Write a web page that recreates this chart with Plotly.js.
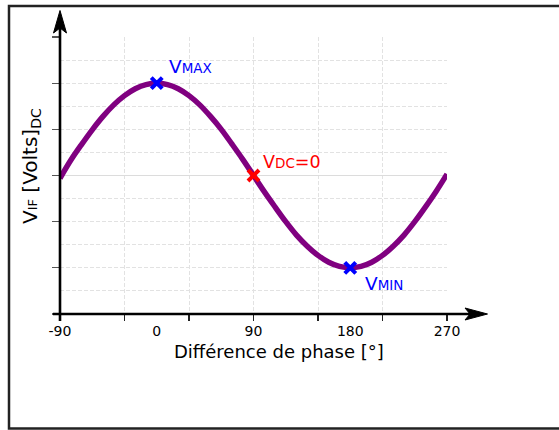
<!DOCTYPE html>
<html>
<head>
<meta charset="utf-8">
<script src="https://cdn.plot.ly/plotly-3.0.1.min.js"></script>
<style>html,body{margin:0;padding:0;background:#fff;}#chart{width:559px;height:430px;}</style>
</head>
<body>
<div id="chart"></div>
<script>
// ---- data ----
const phase = [-90,-80,-70,-60,-50,-40,-30,-20,-10,0,10,20,30,40,50,60,70,80,90,
               100,110,120,130,140,150,160,170,180,190,200,210,220,230,240,250,260,270];
const vif = [-0.06,0.33,0.67,0.99,1.28,1.53,1.73,1.88,1.97,2.0,1.97,1.88,1.73,1.53,1.28,1.0,0.68,0.35,0.0,
             -0.35,-0.68,-1.0,-1.29,-1.53,-1.73,-1.88,-1.97,-2.0,-1.97,-1.88,-1.73,-1.53,-1.29,-1.0,-0.68,-0.34,0.03];
const markPhase = [0, 90, 180];
const markV = [2, 0, -2];
const markColors = ['#0000ff', '#ff0000', '#0000ff'];
const labelTicks = [-90, 0, 90, 180, 270];
const labelText = ['-90', '0', '90', '180', '270'];
const gridTicks = [-90, -30, 30, 90, 150, 210, 270];
const yTicks = [-3, -2, -1, 0, 1, 2, 3];

// ---- layout helpers (pixel -> paper) ----
const L = 60, T = 37, PW = 387, PH = 277;
const px = x => (x - L) / PW;
const py = y => (T + PH - y) / PH;
const FONT = 'DejaVu Sans, sans-serif';
const gridC = '#e2e2e2';

const traces = [
  {x: phase, y: vif, mode: 'lines', line: {color: '#800080', width: 5.5, shape: 'spline'},
   hoverinfo: 'skip', showlegend: false},
  {x: markPhase, y: markV, mode: 'markers', cliponaxis: false,
   marker: {symbol: 'x-thin', size: 11, color: markColors, line: {color: markColors, width: 4}},
   showlegend: false},
  {x: labelTicks, y: labelTicks.map(() => 0), xaxis: 'x2', mode: 'markers',
   marker: {opacity: 0}, hoverinfo: 'skip', showlegend: false}
];

const layout = {
  width: 559, height: 430,
  margin: {l: L, r: 559 - L - PW, t: T, b: 430 - T - PH, pad: 0},
  paper_bgcolor: '#fff', plot_bgcolor: '#fff',
  font: {family: FONT, color: '#000', size: 14},
  xaxis: {range: [-90, 270], tickmode: 'array', tickvals: gridTicks, showticklabels: false,
          ticks: 'outside', ticklen: 6, tickwidth: 1.3, tickcolor: '#222',
          showgrid: true, gridcolor: gridC, griddash: '4px,2px', gridwidth: 1,
          zeroline: false, showline: false, fixedrange: true},
  xaxis2: {range: [-90, 270], overlaying: 'x', side: 'bottom', anchor: 'y',
           tickmode: 'array', tickvals: labelTicks, ticktext: labelText, ticks: '',
           showgrid: false, zeroline: false, showline: false,
           tickfont: {family: FONT, size: 14, color: '#000'}, ticklabelstandoff: 7},
  yaxis: {range: [-3, 3], tickmode: 'array', tickvals: yTicks, showticklabels: false,
          ticks: 'outside', ticklen: 7, tickwidth: 1.3, tickcolor: '#555',
          showgrid: true, gridcolor: gridC, griddash: '4px,2px', gridwidth: 1,
          minor: {dtick: 0.5, tick0: 0, showgrid: true, gridcolor: gridC, griddash: '4px,2px', gridwidth: 1, ticks: ''},
          zeroline: true, zerolinecolor: '#dcdcdc', zerolinewidth: 1.5, showline: false, fixedrange: true},
  shapes: [
    {type: 'rect', xref: 'paper', yref: 'paper', x0: px(9), x1: px(590), y0: py(428.5), y1: py(6),
     line: {color: '#222', width: 2.5}, fillcolor: 'rgba(0,0,0,0)'},
    {type: 'line', xref: 'paper', yref: 'paper', x0: px(60), x1: px(60), y0: py(321), y1: py(28),
     line: {color: '#000', width: 2.6}},
    {type: 'line', xref: 'paper', yref: 'paper', x0: px(53), x1: px(472), y0: py(314), y1: py(314),
     line: {color: '#000', width: 2.6}},
    {type: 'path', xref: 'paper', yref: 'paper',
     path: `M ${px(60)},${py(10.5)} L ${px(53.5)},${py(33)} L ${px(60)},${py(28)} L ${px(66.5)},${py(33)} Z`,
     fillcolor: '#000', line: {color: '#000', width: 1}},
    {type: 'path', xref: 'paper', yref: 'paper',
     path: `M ${px(487.5)},${py(314)} L ${px(465)},${py(308)} L ${px(470)},${py(314)} L ${px(465)},${py(320)} Z`,
     fillcolor: '#000', line: {color: '#000', width: 1}}
  ],
  annotations: [
    {xref: 'paper', yref: 'paper', x: px(278.5), y: py(351), xanchor: 'center', yanchor: 'middle',
     text: 'Différence de phase [°]', showarrow: false, font: {family: FONT, size: 18, color: '#000'}},
    {xref: 'paper', yref: 'paper', x: px(31), y: py(166), xanchor: 'center', yanchor: 'middle', textangle: -90,
     text: 'V<span style="font-size:13px">IF</span> [Volts]<sub style="font-size:13px">DC</sub>', showarrow: false,
     font: {family: FONT, size: 20, color: '#000'}},
    {xref: 'paper', yref: 'paper', x: px(167), y: py(66), xanchor: 'left', yanchor: 'middle',
     text: 'V<span style="font-size:13.5px">MAX</span>', showarrow: false,
     font: {family: FONT, size: 18.5, color: '#0000ff'}},
    {xref: 'paper', yref: 'paper', x: px(260.5), y: py(162), xanchor: 'left', yanchor: 'middle',
     text: 'V<span style="font-size:13.5px">DC</span>=0', showarrow: false,
     font: {family: FONT, size: 17.5, color: '#ff0000'}},
    {xref: 'paper', yref: 'paper', x: px(363), y: py(283), xanchor: 'left', yanchor: 'middle',
     text: 'V<span style="font-size:13.5px">MIN</span>', showarrow: false,
     font: {family: FONT, size: 18.5, color: '#0000ff'}}
  ]
};

Plotly.newPlot('chart', traces, layout, {displayModeBar: false, staticPlot: true});
</script>
</body>
</html>
